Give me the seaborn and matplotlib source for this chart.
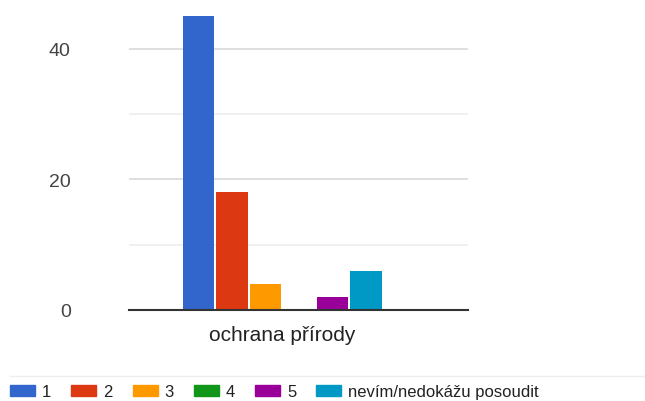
import matplotlib
matplotlib.use("Agg")
import matplotlib.pyplot as plt
import seaborn as sns
import pandas as pd
from matplotlib.lines import Line2D

category = ["ochrana přírody"]
series = ["1", "2", "3", "4", "5", "nevím/nedokážu posoudit"]
values = [45, 18, 4, 0, 2, 6]
colors = ["#3366cc", "#dc3912", "#ff9900", "#109618", "#990099", "#0099c6"]
yticks = [0, 20, 40]
minor_yticks = [10, 30]

df = pd.DataFrame({"cat": category * len(series), "series": series, "value": values})

sns.set_theme(style="white")
plt.rcParams["font.family"] = ["Liberation Sans", "DejaVu Sans"]

fig = plt.figure(figsize=(6.45, 4.02), dpi=100)
ax = fig.add_axes([0.2, 0.2264, 0.525, 0.7736])

sns.barplot(data=df, x="cat", y="value", hue="series", hue_order=series,
            palette=colors, width=0.8, gap=0.06, ax=ax, legend=False,
            saturation=1, edgecolor="none")

ax.set_xlim(-0.609, 0.737)
ax.set_ylim(0, 47.6)
ax.set_yticks(yticks)
ax.set_yticks(minor_yticks, minor=True)
ax.grid(axis="y", which="major", color="#d9d9d9", linewidth=1.2)
ax.grid(axis="y", which="minor", color="#eeeeee", linewidth=1.2)
ax.set_axisbelow(True)
for s in ["top", "right", "left"]:
    ax.spines[s].set_visible(False)
ax.spines["bottom"].set_color("#333333")
ax.spines["bottom"].set_linewidth(1.5)
ax.tick_params(axis="y", which="both", length=0, pad=42, labelsize=14, labelcolor="#444444")
ax.tick_params(axis="x", length=0, pad=11, labelsize=15, labelcolor="#222222")
ax.set_xlabel("")
ax.set_ylabel("")

handles = [plt.Rectangle((0, 0), 1, 1, color=c) for c in colors]
fig.legend(handles, series, loc="center left", bbox_to_anchor=(10 / 645, 1 - 393 / 402),
           ncol=6, frameon=False, fontsize=12, handlelength=1.5, handleheight=0.6,
           handletextpad=0.42, columnspacing=1.2, labelcolor="#222222",
           borderaxespad=0, borderpad=0)

fig.add_artist(Line2D([10 / 645, 1.0], [1 - 377 / 402, 1 - 377 / 402],
                      transform=fig.transFigure, color="#eeeeee", linewidth=1))

fig.savefig("out.png", dpi=100)
